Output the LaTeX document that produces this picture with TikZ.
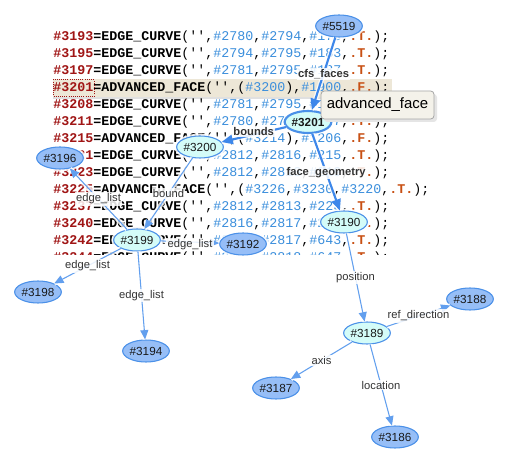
\documentclass[tikz,border=0pt]{standalone}
\usepackage{fontspec}
\setmainfont{Liberation Sans}
\setmonofont{Liberation Mono}
\usetikzlibrary{shapes.geometric,arrows.meta}
\definecolor{cred}{HTML}{A01515}
\definecolor{cblue}{HTML}{3A8EDC}
\definecolor{corange}{HTML}{C85014}
\definecolor{edgec}{HTML}{3D87EA}
\definecolor{edgethin}{HTML}{629FEE}
\definecolor{nblue}{HTML}{96BEF7}
\definecolor{ncyan}{HTML}{D4FCF8}
\definecolor{nborder}{HTML}{4A90E8}
\definecolor{hl}{HTML}{EDE7D7}
\definecolor{tipfill}{HTML}{F4F2EA}
\definecolor{labtext}{HTML}{333333}
\newcommand\rid[1]{\textcolor{cred}{\textbf{\##1}}}
\newcommand\bid[1]{\textcolor{cblue}{\##1}}
\newcommand\kw[1]{\textbf{#1}}
\newcommand\tv[1]{\textcolor{corange}{\textbf{.#1.}}}
\begin{document}
\begin{tikzpicture}[x=0.75pt,y=-0.75pt,
  codeln/.style={anchor=base west,inner sep=0pt,font=\ttfamily\fontsize{10pt}{12pt}\selectfont},
  ent/.style={ellipse,draw=nborder,line width=0.8pt,inner sep=0pt,minimum width=35pt,minimum height=16.5pt,
     font=\fontsize{8.8pt}{10pt}\selectfont,text=black!90,
     preaction={draw=white,line width=3.5pt,opacity=0.85}},
  leaf/.style={ent,fill=nblue},
  mid/.style={ent,fill=ncyan},
  sel/.style={ent,fill=ncyan,line width=1.6pt,font=\bfseries\fontsize{8.8pt}{10pt}\selectfont},
  halo/.style={preaction={draw=white,line width=3.5pt,opacity=0.8,-}},
  thickedge/.style={halo,draw=edgec,line width=1.6pt,-{Triangle[length=8.5pt,width=7pt]}},
  thinedge/.style={halo,draw=edgethin,line width=0.8pt,-{Triangle[length=7pt,width=6pt]}},
  lab/.style={fill=white,fill opacity=0.85,text opacity=1,inner sep=1pt,text=labtext,font=\fontsize{8.4pt}{10pt}\selectfont},
  blab/.style={lab,font=\bfseries\fontsize{8.4pt}{10pt}\selectfont},
  tipbox/.style={rectangle,rounded corners=2.5pt,draw=black!35,fill=tipfill,line width=0.6pt,
     minimum width=84.75pt,minimum height=21pt,inner sep=0pt,font=\fontsize{11.2pt}{13pt}\selectfont}]
\useasboundingbox (0,0) rectangle (525,463);
\fill[white] (0,0) rectangle (525,463);
% highlighted line
\fill[black!12] (53,96) rectangle (393,99);
\fill[hl] (53,79) rectangle (392,97);
% code listing
\begin{scope}
\clip (0,0) rectangle (525,254.5);
\node[codeln] (c1) at (53,40.5) {\rid{3193}\kw{=EDGE\_CURVE}('',\bid{2780},\bid{2794},\bid{173},\tv{T});};
\node[codeln] (c2) at (53,57.5) {\rid{3195}\kw{=EDGE\_CURVE}('',\bid{2794},\bid{2795},\bid{183},\tv{T});};
\node[codeln] (c3) at (53,74.5) {\rid{3197}\kw{=EDGE\_CURVE}('',\bid{2781},\bid{2795},\bid{187},\tv{T});};
\node[codeln] (c4) at (53,91.5) {\rid{3201}\kw{=ADVANCED\_FACE}('',(\bid{3200}),\bid{1900},\tv{F});};
\node[codeln] (c5) at (53,108.5) {\rid{3208}\kw{=EDGE\_CURVE}('',\bid{2781},\bid{2795},\bid{193},\tv{T});};
\node[codeln] (c6) at (53,125.5) {\rid{3211}\kw{=EDGE\_CURVE}('',\bid{2780},\bid{2795},\bid{197},\tv{T});};
\node[codeln] (c7) at (53,142.5) {\rid{3215}\kw{=ADVANCED\_FACE}('',(\bid{3214}),\bid{1206},\tv{F});};
\node[codeln] (c8) at (53,159.5) {\rid{3221}\kw{=EDGE\_CURVE}('',\bid{2812},\bid{2816},\bid{215},\tv{T});};
\node[codeln] (c9) at (53,176.5) {\rid{3223}\kw{=EDGE\_CURVE}('',\bid{2812},\bid{2813},\bid{219},\tv{T});};
\node[codeln] (c10) at (53,193.5) {\rid{3225}\kw{=ADVANCED\_FACE}('',(\bid{3226},\bid{3230},\bid{3220},\tv{T});};
\node[codeln] (c11) at (53,210.5) {\rid{3237}\kw{=EDGE\_CURVE}('',\bid{2812},\bid{2813},\bid{223},\tv{T});};
\node[codeln] (c12) at (53,227.5) {\rid{3240}\kw{=EDGE\_CURVE}('',\bid{2816},\bid{2817},\bid{227},\tv{T});};
\node[codeln] (c13) at (53,244.5) {\rid{3242}\kw{=EDGE\_CURVE}('',\bid{2813},\bid{2817},\bid{643},\tv{T});};
\node[codeln] (c14) at (53,261.5) {\rid{3244}\kw{=EDGE\_CURVE}('',\bid{2817},\bid{2818},\bid{647},\tv{T});};
\end{scope}
\draw[cred,densely dotted,line width=0.6pt] (53.5,79.5) rectangle (94,96.5);
% nodes
\node[leaf] (n5519) at (339,26) {\#5519};
\node[sel]  (n3201) at (308,122) {\#3201};
\node[mid]  (n3200) at (200,147) {\#3200};
\node[leaf] (n3196) at (60,158) {\#3196};
\node[mid]  (n3199) at (137,240) {\#3199};
\node[leaf] (n3192) at (243,244) {\#3192};
\node[mid]  (n3190) at (344,222) {\#3190};
\node[leaf] (n3198) at (38,292) {\#3198};
\node[leaf] (n3194) at (146,351) {\#3194};
\node[mid]  (n3189) at (367,333) {\#3189};
\node[leaf] (n3188) at (470,299) {\#3188};
\node[leaf] (n3187) at (276,388) {\#3187};
\node[leaf] (n3186) at (395,437) {\#3186};
% edges
\draw[thickedge] (n5519) -- node[blab,pos=0.5]{cfs\_faces} (n3201);
\draw[thickedge] (n3201) -- node[blab,pos=0.5,yshift=2pt]{bounds} (n3200);
\draw[thickedge] (n3201) -- node[blab,pos=0.5]{face\_geometry} (n3190);
\draw[thinedge] (n3200) -- node[lab,pos=0.5]{bound} (n3199);
\draw[thinedge] (n3199) -- node[lab,pos=0.5]{edge\_list} (n3196);
\draw[thinedge] (n3199) -- node[lab,pos=0.5,yshift=-2pt]{edge\_list} (n3192);
\draw[thinedge] (n3199) -- node[lab,pos=0.5]{edge\_list} (n3198);
\draw[thinedge] (n3199) -- node[lab,pos=0.5]{edge\_list} (n3194);
\draw[thinedge] (n3190) -- node[lab,pos=0.5]{position} (n3189);
\draw[thinedge] (n3189) -- node[lab,pos=0.5]{ref\_direction} (n3188);
\draw[thinedge] (n3189) -- node[lab,pos=0.5]{axis} (n3187);
\draw[thinedge] (n3189) -- node[lab,pos=0.5]{location} (n3186);
% tooltip
\fill[black!10,rounded corners=2.5pt] (324,94) rectangle (437,122);
\node[tipbox] (tip) at (377.5,105) {advanced\_face};
\end{tikzpicture}
\end{document}
